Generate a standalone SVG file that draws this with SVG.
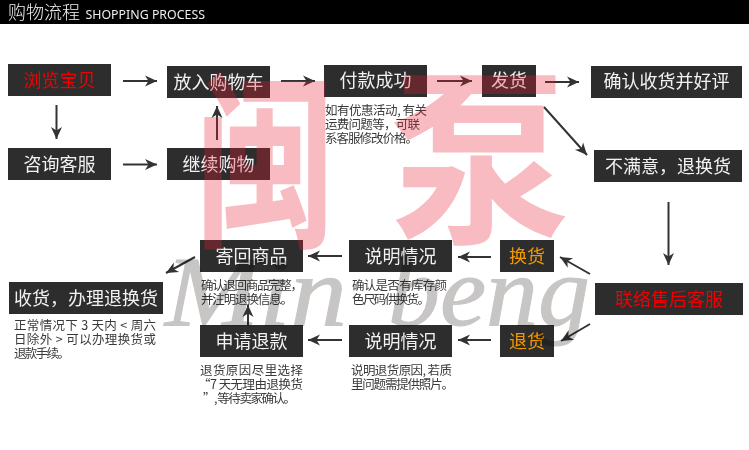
<svg xmlns="http://www.w3.org/2000/svg" width="749" height="450" viewBox="0 0 749 450">
<style>
text{font-family:"Noto Sans CJK SC","Liberation Sans",sans-serif}
.b{fill:#2d2d2d}
.l{font-size:18px;fill:#f2f2f2;text-anchor:middle;font-weight:400}
.s{font-size:12.5px;fill:#3a3a3a;font-weight:400}
.c line{stroke:#333;stroke-width:2;marker-end:url(#a)}
.w{fill:#e61e32;fill-opacity:.3;font-weight:700}
.m{font-family:"Liberation Serif",serif;font-style:italic;font-size:100px;fill:#c8c6c5;stroke:#c8c6c5;stroke-width:1;mix-blend-mode:multiply}
</style>
<defs>
<marker id="a" markerUnits="userSpaceOnUse" markerWidth="14" markerHeight="14" refX="12" refY="7" orient="auto">
<path d="M0 1.500L12 7L0 12.500L3.500 7Z" fill="#333"/>
</marker>
</defs>
<rect width="749" height="450" fill="#fff"/>
<g id="header">
<rect width="749" height="24" fill="#000"/>
<text x="8" y="18.500" font-size="18" fill="#f2f2f2" font-weight="300">购物流程</text>
<text x="85.500" y="19" font-size="13" fill="#eee" textLength="119.500" lengthAdjust="spacingAndGlyphs" style="font-family:'Noto Sans','Liberation Sans',sans-serif">SHOPPING PROCESS</text>
</g>
<g id="n1"><rect class="b" x="8" y="64" width="103" height="32"/><text class="l" style="fill:#f00000" x="59.500" y="86.500">浏览宝贝</text></g>
<g id="n2"><rect class="b" x="167" y="66" width="103" height="32"/><text class="l" x="218.500" y="88.500">放入购物车</text></g>
<g id="n3"><rect class="b" x="324" y="65" width="103" height="32"/><text class="l" x="375.500" y="87">付款成功</text>
<text class="s" x="325" y="115" textLength="102">如有优惠活动, 有关</text><text class="s" x="325" y="129" textLength="95">运费问题等，可联</text><text class="s" x="325" y="143" textLength="93">系客服修改价格。</text></g>
<g id="n4"><rect class="b" x="482" y="65" width="54" height="32"/><text class="l" x="509" y="87">发货</text></g>
<g id="n5"><rect class="b" x="591" y="66" width="151" height="32"/><text class="l" x="666.500" y="88">确认收货并好评</text></g>
<g id="n6"><rect class="b" x="8" y="148" width="103" height="32"/><text class="l" x="59.500" y="171">咨询客服</text></g>
<g id="n7"><rect class="b" x="167" y="148" width="103" height="32"/><text class="l" x="218.500" y="170.500">继续购物</text></g>
<g id="n8"><rect class="b" x="594" y="150" width="148" height="32"/><text class="l" x="668" y="172.500">不满意，退换货</text></g>
<g id="n9"><rect class="b" x="200" y="240" width="103" height="32"/><text class="l" x="251.500" y="263">寄回商品</text>
<text class="s" x="201" y="290" textLength="102">确认退回商品完整，</text><text class="s" x="201" y="304" textLength="92">并注明退换信息。</text></g>
<g id="n10"><rect class="b" x="349" y="240" width="103" height="32"/><text class="l" x="400.500" y="263">说明情况</text>
<text class="s" x="352" y="290" textLength="95">确认是否有库存颜</text><text class="s" x="352" y="304" textLength="78">色尺码供换货。</text></g>
<g id="n11"><rect class="b" x="500" y="240" width="54" height="32"/><text class="l" style="fill:#f39800" x="527" y="263">换货</text></g>
<g id="n12"><rect class="b" x="595" y="283" width="148" height="32"/><text class="l" style="fill:#f00000" x="669" y="306">联络售后客服</text></g>
<g id="n13"><rect class="b" x="9" y="282" width="154" height="32"/><text class="l" x="86" y="305">收货，办理退换货</text>
<text class="s" x="14" y="330" textLength="142">正常情况下 3 天内 &lt; 周六</text><text class="s" x="14" y="344" textLength="142">日除外 &gt; 可以办理换货或</text><text class="s" x="14" y="358" textLength="56">退款手续。</text></g>
<g id="n14"><rect class="b" x="200" y="325" width="103" height="32"/><text class="l" x="251.500" y="348">申请退款</text>
<text class="s" x="200" y="375" textLength="103">退货原因尽里选择</text><text class="s" x="198" y="389" textLength="105">“7 天无理由退换货</text><text class="s" x="203" y="403" textLength="93">”, 等待卖家确认。</text></g>
<g id="n15"><rect class="b" x="349" y="325" width="103" height="32"/><text class="l" x="400.500" y="348">说明情况</text>
<text class="s" x="351" y="375" textLength="101">说明退货原因, 若质</text><text class="s" x="351" y="389" textLength="103">里问题需提供照片。</text></g>
<g id="n16"><rect class="b" x="500" y="325" width="54" height="32"/><text class="l" style="fill:#f39800" x="527" y="348">退货</text></g>
<g id="connectors" class="c">
<line x1="123" y1="81" x2="157" y2="81"/>
<line x1="56.500" y1="105" x2="56.500" y2="139"/>
<line x1="123" y1="164.500" x2="157" y2="164.500"/>
<line x1="217" y1="140" x2="217" y2="106"/>
<line x1="281" y1="81" x2="315" y2="81"/>
<line x1="437" y1="81" x2="472" y2="81"/>
<line x1="545" y1="82" x2="579" y2="82"/>
<line x1="544" y1="107" x2="587" y2="155"/>
<line x1="668.500" y1="202" x2="668.500" y2="265"/>
<line x1="590" y1="274" x2="560" y2="257"/>
<line x1="590" y1="324" x2="561" y2="341"/>
<line x1="491" y1="257" x2="458" y2="257"/>
<line x1="491" y1="340" x2="458" y2="340"/>
<line x1="342" y1="256" x2="308" y2="256"/>
<line x1="342" y1="340" x2="308" y2="340"/>
<line x1="195" y1="257" x2="166" y2="273"/>
<line x1="248" y1="325" x2="248" y2="305"/>
</g>
<g id="watermark">
<text class="w" transform="translate(195 232) scale(1 1.350)" font-size="140">闽</text>
<text class="w" transform="translate(390 228) scale(1 1.050)" font-size="180">泵</text>
<text class="m" x="165" y="325" textLength="182" lengthAdjust="spacingAndGlyphs">Min</text>
<text class="m" x="388" y="325" textLength="202" lengthAdjust="spacingAndGlyphs">beng</text>
</g>
</svg>
